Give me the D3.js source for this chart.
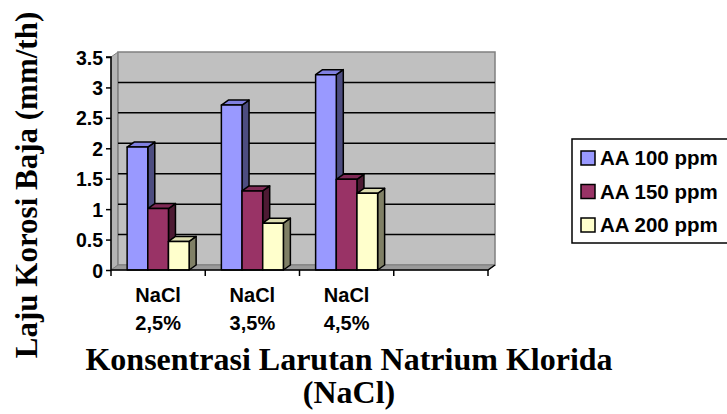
<!DOCTYPE html>
<html>
<head>
<meta charset="utf-8">
<script src="https://cdn.jsdelivr.net/npm/d3@7"></script>
<style>
  html, body { margin: 0; padding: 0; background: #fff; }
  svg { display: block; }
</style>
</head>
<body>
<svg id="chart" width="727" height="414"></svg>
<script>
// Corrosion rate of steel by NaCl concentration and inhibitor dose
const categories = ["NaCl 2,5%", "NaCl 3,5%", "NaCl 4,5%", ""];
const seriesNames = ["AA 100 ppm", "AA 150 ppm", "AA 200 ppm"];
const aa100 = [2.02, 2.71, 3.21];
const aa150 = [1.01, 1.30, 1.49];
const aa200 = [0.47, 0.77, 1.26];
const yTicks = [0, 0.5, 1, 1.5, 2, 2.5, 3, 3.5];
const yTickLabels = ["0", "0.5", "1", "1.5", "2", "2.5", "3", "3.5"];
const seriesValues = [aa100, aa150, aa200];

const palette = [
  { front: "#9999FF", top: "#8080E0", side: "#4D4D80" },
  { front: "#993366", top: "#7F2A55", side: "#4D1A33" },
  { front: "#FFFFCC", top: "#DCDCB0", side: "#808066" }
];

const svg = d3.select("#chart");

// front plane of the plot and 3-D depth offset
const plotLeft = 111, plotRight = 488, plotBottom = 270, plotTop = 57;
const dx = 7, dy = -5;

const x = d3.scaleBand().domain(d3.range(categories.length)).range([plotLeft, plotRight]).paddingInner(0).paddingOuter(0);
const xs = d3.scaleBand().domain(d3.range(seriesNames.length)).range([0, x.bandwidth()]).paddingInner(0).paddingOuter(0.78);
const y = d3.scaleLinear().domain([0, 3.5]).range([plotBottom, plotTop]);

const poly = pts => pts.map(p => p.join(",")).join(" ");
const g = svg.append("g");

// side wall (left), back wall and floor
g.append("polygon")
  .attr("points", poly([[plotLeft, y(0)], [plotLeft + dx, y(0) + dy], [plotLeft + dx, y(3.5) + dy], [plotLeft, y(3.5)]]))
  .attr("fill", "#B4B4B4").attr("stroke", "#808080").attr("stroke-width", 1);
g.append("polygon")
  .attr("points", poly([[plotLeft + dx, y(0) + dy], [plotRight + dx, y(0) + dy], [plotRight + dx, y(3.5) + dy], [plotLeft + dx, y(3.5) + dy]]))
  .attr("fill", "#C0C0C0").attr("stroke", "#808080").attr("stroke-width", 1.5);
g.append("polygon")
  .attr("points", poly([[plotLeft, y(0)], [plotRight, y(0)], [plotRight + dx, y(0) + dy], [plotLeft + dx, y(0) + dy]]))
  .attr("fill", "#9A9A9A").attr("stroke", "#808080").attr("stroke-width", 1);

// gridlines on the back wall
g.selectAll("line.grid").data(yTicks.filter(t => t > 0 && t < 3.5)).enter().append("line")
  .attr("class", "grid")
  .attr("x1", plotLeft + dx).attr("x2", plotRight + dx)
  .attr("y1", d => y(d) + dy).attr("y2", d => y(d) + dy)
  .attr("stroke", "#000").attr("stroke-width", 1.5);

// bars: front face, top face, right side face
categories.forEach((c, i) => {
  seriesValues.forEach((vals, j) => {
    const v = vals[i];
    if (v === undefined) return;
    const x0 = x(i) + xs(j), w = xs.bandwidth();
    const yv = y(v), y0 = y(0);
    const col = palette[j];
    const bg = g.append("g").attr("stroke", "#000").attr("stroke-width", 1.5).attr("stroke-linejoin", "round");
    bg.append("polygon")
      .attr("points", poly([[x0 + w, yv], [x0 + w + dx, yv + dy], [x0 + w + dx, y0 + dy], [x0 + w, y0]]))
      .attr("fill", col.side);
    bg.append("polygon")
      .attr("points", poly([[x0, yv], [x0 + dx, yv + dy], [x0 + w + dx, yv + dy], [x0 + w, yv]]))
      .attr("fill", col.top);
    bg.append("rect")
      .attr("x", x0).attr("y", yv).attr("width", w).attr("height", y0 - yv)
      .attr("fill", col.front);
  });
});

// value axis
const yAxis = d3.axisLeft(y).tickValues(yTicks).tickFormat((d, i) => yTickLabels[i]).tickSize(5).tickPadding(3);
const ya = svg.append("g").attr("transform", `translate(${plotLeft},0)`).call(yAxis);
ya.select(".domain").attr("stroke", "#000").attr("stroke-width", 1.5).attr("d", `M-5,${y(3.5)}H0V${y(0)}`);
ya.selectAll(".tick line").attr("stroke", "#000").attr("stroke-width", 1.5);
ya.selectAll(".tick text")
  .attr("font-family", "Liberation Sans, Arial, sans-serif")
  .attr("font-weight", "bold").attr("font-size", 19.5).attr("fill", "#000")
  .attr("dy", "0.36em");

// category axis
const xAxis = d3.axisBottom(x).tickSize(0).tickFormat("");
const xa = svg.append("g").attr("transform", `translate(0,${plotBottom})`).call(xAxis);
xa.select(".domain").attr("stroke", "#000").attr("stroke-width", 1.5)
  .attr("d", `M${plotLeft},0H${plotRight}L${plotRight + dx},${dy}`);
xa.selectAll(".tick").remove();
xa.selectAll("line.sep").data(d3.range(categories.length + 1)).enter().append("line")
  .attr("class", "sep")
  .attr("x1", d => plotLeft + d * x.step()).attr("x2", d => plotLeft + d * x.step())
  .attr("y1", 0).attr("y2", 6)
  .attr("stroke", "#000").attr("stroke-width", 1.5);

categories.forEach((c, i) => {
  if (!c) return;
  const parts = c.split(" ");
  const t = svg.append("text")
    .attr("x", x(i) + x.bandwidth() / 2)
    .attr("text-anchor", "middle")
    .attr("font-family", "Liberation Sans, Arial, sans-serif")
    .attr("font-weight", "bold").attr("font-size", 20).attr("fill", "#000");
  parts.forEach((p, k) => {
    t.append("tspan").attr("x", x(i) + x.bandwidth() / 2).attr("y", 302 + k * 28).text(p);
  });
});

// axis titles
svg.append("text")
  .attr("transform", "translate(37,185) rotate(-90)")
  .attr("text-anchor", "middle")
  .attr("font-family", "Liberation Serif, 'Times New Roman', serif")
  .attr("font-weight", "bold").attr("font-size", 31).attr("fill", "#000")
  .text("Laju Korosi Baja (mm/th)");

const xt = svg.append("text")
  .attr("text-anchor", "middle")
  .attr("font-family", "Liberation Serif, 'Times New Roman', serif")
  .attr("font-weight", "bold").attr("font-size", 32).attr("fill", "#000");
xt.append("tspan").attr("x", 349).attr("y", 370).text("Konsentrasi Larutan Natrium Klorida");
xt.append("tspan").attr("x", 349).attr("y", 403).text("(NaCl)");

// legend
const lg = svg.append("g");
lg.append("rect").attr("x", 572).attr("y", 139).attr("width", 160).attr("height", 104)
  .attr("fill", "#fff").attr("stroke", "#000").attr("stroke-width", 1.5);
seriesNames.forEach((s, j) => {
  const cy = 158 + j * 33.5;
  lg.append("rect").attr("x", 581).attr("y", cy - 7).attr("width", 14).attr("height", 14)
    .attr("fill", palette[j].front).attr("stroke", "#000").attr("stroke-width", 1.5);
  lg.append("text").attr("x", 600).attr("y", cy + 7)
    .attr("font-family", "Liberation Sans, Arial, sans-serif")
    .attr("font-weight", "bold").attr("font-size", 20.5).attr("fill", "#000")
    .text(s);
});
</script>
</body>
</html>
